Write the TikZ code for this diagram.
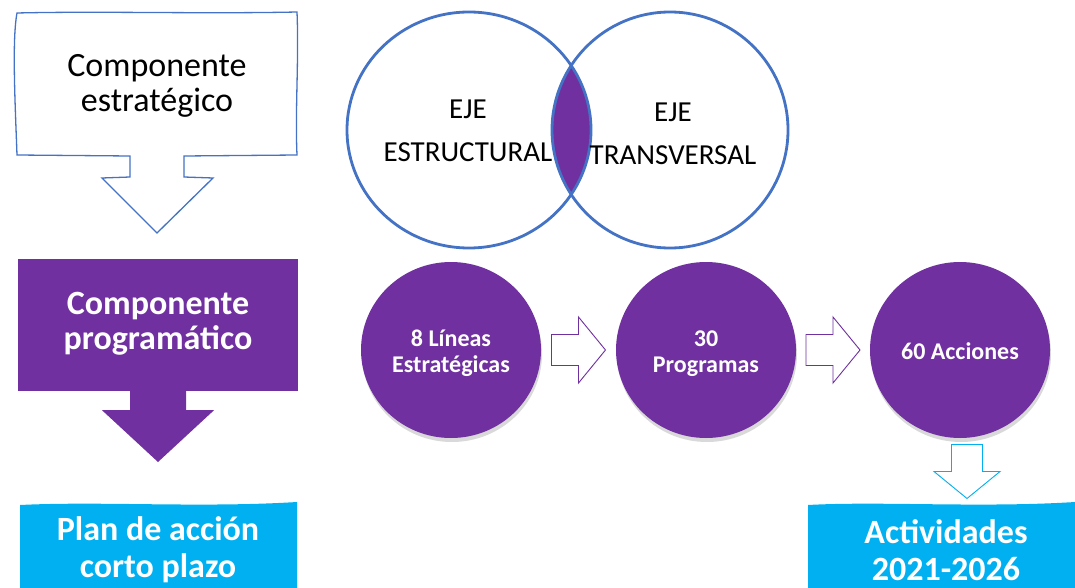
\documentclass[tikz,border=0pt]{standalone}
\usepackage{fontspec}
\setmainfont{Carlito}
\usetikzlibrary{shapes.geometric,shadows,calc}
\definecolor{purp}{HTML}{7030A0}
\definecolor{bluel}{HTML}{4472C4}
\definecolor{cyanb}{HTML}{00B0F0}
\begin{document}
\begin{tikzpicture}[x=1pt,y=-1pt,
  bigtxt/.style={align=center,inner sep=0pt,font=\fontsize{34}{35}\selectfont},
  whitebig/.style={align=center,inner sep=0pt,text=white,font=\fontsize{34}{37}\selectfont\bfseries},
  venntxt/.style={align=center,inner sep=0pt,font=\fontsize{29}{43}\selectfont},
  ovaltxt/.style={align=center,inner sep=0pt,text=white,font=\fontsize{24}{26}\selectfont\bfseries},
  oval/.style={ellipse,fill=purp,minimum width=180,minimum height=176,inner sep=0pt,
    drop shadow={opacity=0.3,shadow xshift=1pt,shadow yshift=-4pt}},
  blockarrow/.pic={\path[draw,fill=white,line width=0.9pt,line join=miter]
    (-27,-15.5) -- (0,-15.5) -- (0,-33) -- (27,0) -- (0,33) -- (0,15.5) -- (-27,15.5) -- cycle;},
]
\useasboundingbox (0,0) rectangle (1075,588);

% --- Componente estrategico (callout)
\draw[bluel,line width=1.3pt,fill=white]
  (17,13) .. controls (100,11) and (200,14) .. (297,12)
  .. controls (299,60) and (295,110) .. (297,155)
  -- (184,156) -- (184,177) -- (213,178) -- (157,233) -- (102,178)
  -- (130,177) -- (130,156) -- (17,155)
  .. controls (15,100) and (12,40) .. (17,13) -- cycle;
\node[bigtxt] (estr) at (157,86) {Componente\\estratégico};

% --- Componente programatico
\node[fill=purp,minimum width=280,minimum height=132,inner sep=0pt] (prog) at (158,325) {};
\fill[purp] ([xshift=-28pt]prog.south) -- ++(0,19) -- ++(-28,0) -- (158,462)
  -- ($(prog.south)+(56,19)$) -- ++(-28,0) -- ([xshift=28pt]prog.south) -- cycle;
\node[whitebig,font=\fontsize{34}{35}\selectfont\bfseries] (progt) at (158,324) {Componente\\programático};

% --- Plan de accion
\fill[cyanb] (20,505) .. controls (100,501) and (200,508) .. (297,502) -- (297,588) -- (20,588) -- cycle;
\node[whitebig] (plan) at (158,550) {Plan de acción\\corto plazo};

% --- Venn
\begin{scope}
  \clip (469,130) ellipse [x radius=122, y radius=118];
  \fill[purp] (670,130) circle [radius=118];
\end{scope}
\draw[bluel,line width=2.8pt] (469,130) ellipse [x radius=122, y radius=118];
\draw[bluel,line width=2.8pt] (670,130) circle [radius=118];
\node[venntxt] (estruct) at (468,131) {EJE\\ESTRUCTURAL};
\node[venntxt] (transv) at (673,134) {EJE\\TRANSVERSAL};

% --- Ovals
\node[oval] (l8) at (451,350) {};
\node[oval] (p30) at (706,350) {};
\node[oval] (a60) at (960,350) {};
\node[ovaltxt] at ([yshift=-3pt]l8.center) {8 Líneas\\Estratégicas};
\node[ovaltxt] at ([yshift=-4pt]p30.center) {30\\Programas};
\node[ovaltxt] at ([yshift=-1pt]a60.center) {60 Acciones};

\pic[draw=purp] (ar1) at ($(l8.east)!0.5!(p30.west)$) {blockarrow};
\pic[draw=purp] (ar2) at ($(p30.east)!0.5!(a60.west)$) {blockarrow};

% --- Actividades
\fill[cyanb] (808,505) .. controls (880,501) and (980,508) .. (1075,502) -- (1075,588) -- (808,588) -- cycle;
\node[whitebig] (act) at (946,550) {Actividades\\2021-2026};
\pic[draw=cyanb,rotate=-90] (ar3) at (967,471.5) {blockarrow};
\end{tikzpicture}
\end{document}
